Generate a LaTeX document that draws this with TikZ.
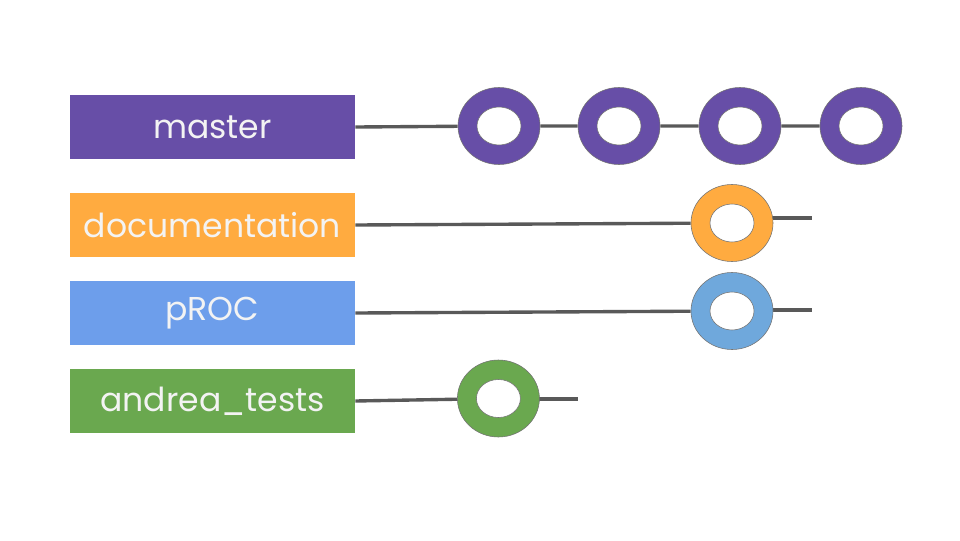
\documentclass[tikz,border=0pt]{standalone}
\usepackage{fontspec}
\setmainfont{Poppins}
\usepackage{xcolor}
\usepackage{tikz}
\usetikzlibrary{calc,positioning,shapes.geometric}
\pgfdeclarelayer{background}
\pgfsetlayers{background,main}
\definecolor{masterpurple}{HTML}{674EA7}
\definecolor{docorange}{HTML}{FFAB40}
\definecolor{procblue}{HTML}{6D9EEB}
\definecolor{procring}{HTML}{6FA8DC}
\definecolor{testgreen}{HTML}{6AA84F}
\definecolor{linegrey}{HTML}{595959}
\definecolor{labelwhite}{HTML}{F3F3F3}
\tikzset{
    branch/.style={
        rectangle,
        minimum width=7.125cm,
        minimum height=1.6cm,
        inner sep=0pt,
        text=labelwhite,
        font={\fontsize{23.5pt}{28}\selectfont}
    },
    commit/.style={
        ellipse,
        minimum width=2.05cm,
        minimum height=1.925cm,
        inner sep=0pt,
        draw=black!55, thin,
        path picture={
            \draw[black!55, thin, fill=white]
                (path picture bounding box.center) ellipse (0.55cm and 0.475cm);
        }
    },
    line/.style={draw, linegrey, line width=2.4pt},
}
\begin{document}
\begin{tikzpicture}
\useasboundingbox (0,0) rectangle (24,13.5);
% branch labels
\node[branch, fill=masterpurple](master) at (5.3125, 10.325){master};
\node[branch, fill=docorange](doc) at (5.3125, 7.875){documentation};
\node[branch, fill=procblue](proc) at (5.3125, 5.675){pROC};
\node[branch, fill=testgreen](tests) at (5.3125, 3.475){andrea\_tests};
% commits
\node[commit, fill=masterpurple](m1) at (12.475, 10.35){};
\node[commit, fill=masterpurple](m2) at (15.475, 10.35){};
\node[commit, fill=masterpurple](m3) at (18.5, 10.35){};
\node[commit, fill=masterpurple](m4) at (21.525, 10.35){};
\node[commit, fill=docorange](d1) at (18.3, 7.925){};
\node[commit, fill=procring](p1) at (18.3, 5.725){};
\node[commit, fill=testgreen](t1) at (12.46, 3.5375){};
\coordinate (dend) at (20.3, 8.05);
\coordinate (pend) at (20.3, 5.75);
\coordinate (tend) at (14.45, 3.525);
\begin{pgfonlayer}{background}
\draw[line] (master.east) -- (m1) -- (m2) -- (m3) -- (m4);
\draw[line] (doc.east) -- (d1);
\draw[line] (d1 |- dend) -- (dend);
\draw[line] (proc.east) -- (p1);
\draw[line] (p1 |- pend) -- (pend);
\draw[line] (tests.east) -- (t1);
\draw[line] (t1 |- tend) -- (tend);
\end{pgfonlayer}
\end{tikzpicture}
\end{document}
